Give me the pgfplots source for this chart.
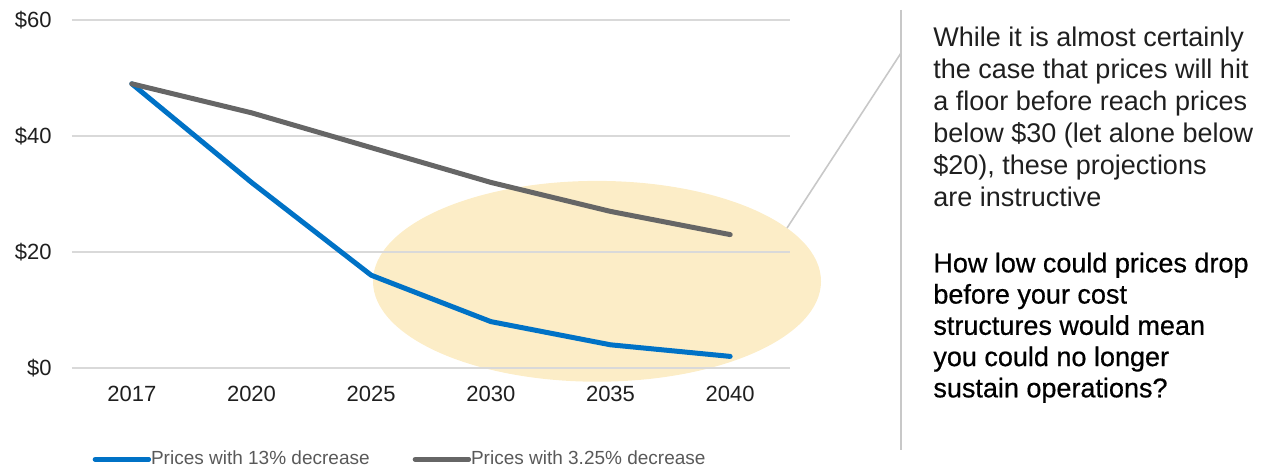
\documentclass[border=0pt]{standalone}
\usepackage{fontspec}
\setmainfont{Liberation Sans}
\newfontfamily\medfont{Liberation Sans}[FakeBold=0.6]
\usepackage{pgfplots}
\pgfplotsset{compat=1.18}
\definecolor{blueline}{HTML}{0072C6}
\definecolor{grayline}{HTML}{666666}
\definecolor{gridc}{HTML}{D9D9D9}
\definecolor{ellc}{HTML}{FCEDC7}
\definecolor{callc}{HTML}{C8C8C8}
\definecolor{legc}{HTML}{595959}
\definecolor{txtc}{HTML}{1F1F1F}
\begin{document}
\begin{tikzpicture}
\useasboundingbox (0,0) rectangle (631pt,233.5pt);
% highlight ellipse
\fill[ellc] (298.5pt,92.85pt) ellipse [x radius=112pt, y radius=50.2pt];
\begin{axis}[
  at={(36pt,49.5pt)}, anchor=south west,
  scale only axis, width=359pt, height=174pt,
  xmin=-0.5, xmax=5.5, ymin=0, ymax=60,
  axis line style={draw=none},
  major tick length=0pt,
  xtick={0,1,2,3,4,5},
  xticklabels={2017,2020,2025,2030,2035,2040},
  ytick={0,20,40,60},
  yticklabel={\$\pgfmathprintnumber{\tick}},
  /pgf/number format/assume math mode=true,
  ymajorgrids, grid style={gridc, line width=0.6pt},
  xticklabel style={font=\fontsize{11}{13}\selectfont, inner sep=0pt, anchor=north, text=txtc},
  yticklabel style={font=\fontsize{11}{13}\selectfont, inner sep=0pt, anchor=east, text=txtc},
  xticklabel shift=9pt,
  yticklabel shift=10pt,
  legend columns=2,
  legend style={at={(axis description cs:0.0288,-0.2624)}, anchor=west, draw=none, fill=none,
    inner sep=0pt, outer sep=0pt,
    font=\fontsize{9.5}{11}\selectfont, text=legc,
    nodes={inner sep=0pt},
    /tikz/every even column/.append style={column sep=21.5pt}},
  legend image code/.code={
    \draw[#1, line width=2.5pt, line cap=round] (1.25pt,0pt) -- (26.55pt,0pt);
    \path (0pt,0pt) -- (26.7pt,0pt);
  },
]
\addplot[blueline, line width=2.5pt, line join=round, line cap=round] coordinates {
  (0,49) (1,32) (2,16) (3,8) (4,4) (5,2)};
\addlegendentry{Prices with 13\% decrease}
\addplot[grayline, line width=2.5pt, line join=round, line cap=round] coordinates {
  (0,49) (1,44) (2,38) (3,32) (4,27) (5,23)};
\addlegendentry{Prices with 3.25\% decrease}
\end{axis}
% callout and divider
\draw[callc, line width=0.8pt] (393.5pt,119.5pt) -- (450.5pt,207pt);
\draw[callc, line width=1pt] (450.5pt,228.5pt) -- (450.5pt,8.5pt);
% right text
\begin{scope}[every node/.style={anchor=base west, inner sep=0pt, font=\fontsize{13.5}{15}\selectfont, text=txtc}]
\node at (466.5pt,210.5pt) {While it is almost certainly};
\node at (466.5pt,194.45pt) {the case that prices will hit};
\node at (466.5pt,178.4pt) {a floor before reach prices};
\node at (466.5pt,162.35pt) {below \$30 (let alone below};
\node at (466.5pt,146.3pt) {\$20), these projections};
\node at (466.5pt,130.25pt) {are instructive};
\end{scope}
\begin{scope}[every node/.style={anchor=base west, inner sep=0pt, font=\medfont\fontsize{13.5}{15}\selectfont, text=black}]
\node at (466.5pt,97.35pt) {How low could prices drop};
\node at (466.5pt,81.725pt) {before your cost};
\node at (466.5pt,66.1pt) {structures would mean};
\node at (466.5pt,50.475pt) {you could no longer};
\node at (466.5pt,34.85pt) {sustain operations?};
\end{scope}
\end{tikzpicture}
\end{document}
